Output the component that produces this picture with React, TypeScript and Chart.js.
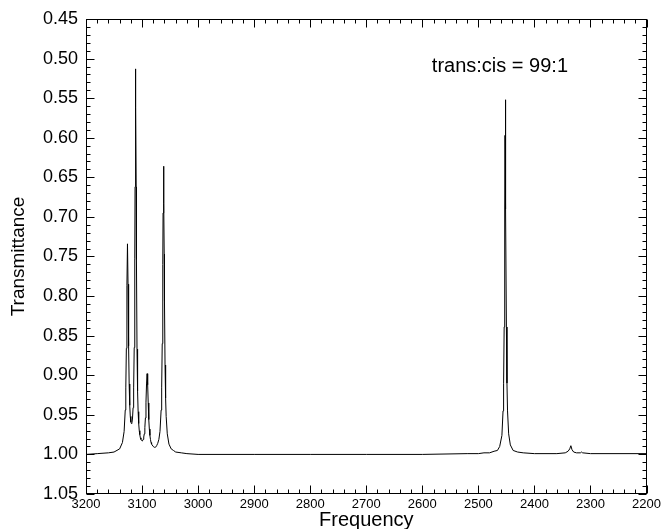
import React, { useEffect, useRef } from "react";
import { Chart, registerables } from "chart.js";

Chart.register(...registerables);

// Frequency (cm^-1), descending
const frequency = [
  3200, 3180, 3160, 3150, 3140, 3135, 3132, 3130, 3129, 3128, 3127, 3126, 3125, 3124, 3123, 3122, 3121, 3120,
  3119, 3118, 3117, 3116, 3115, 3114, 3113, 3112.5, 3112, 3111.5, 3111, 3110.5, 3110, 3109, 3108, 3107, 3106,
  3105, 3104, 3103, 3102, 3101, 3100, 3099, 3098, 3097, 3096, 3095, 3094, 3093, 3092, 3091, 3090, 3089, 3088,
  3087, 3086, 3085, 3084, 3083, 3082, 3080, 3078, 3076, 3074, 3072, 3070, 3068, 3066, 3065, 3064, 3063, 3062.5,
  3061.7, 3061, 3060.5, 3060, 3059, 3058, 3057, 3055, 3052, 3048, 3044, 3040, 3030, 3020, 3000, 2900, 2800,
  2700, 2600, 2520, 2500, 2490, 2480, 2472, 2466, 2462, 2458, 2456, 2455, 2454, 2453, 2452.5, 2452, 2451.5,
  2451, 2450, 2449, 2448, 2446, 2443, 2438, 2430, 2420, 2400, 2360, 2345, 2340, 2337, 2335, 2333, 2330, 2325,
  2318, 2316, 2314, 2300, 2200,
];

// Transmittance at each frequency
const transmittance = [
  1.0, 0.999, 0.998, 0.997, 0.993, 0.985, 0.971, 0.944, 0.916, 0.866, 0.787, 0.734, 0.785, 0.863, 0.911, 0.938, 0.952, 0.959,
  0.961, 0.96, 0.954, 0.941, 0.916, 0.865, 0.753, 0.662, 0.562, 0.513, 0.562, 0.662, 0.754, 0.867, 0.92, 0.946, 0.961,
  0.97, 0.975, 0.979, 0.981, 0.982, 0.983, 0.982, 0.981, 0.978, 0.974, 0.966, 0.954, 0.934, 0.911, 0.898, 0.912, 0.935, 0.956,
  0.968, 0.976, 0.981, 0.985, 0.987, 0.988, 0.99, 0.991, 0.991, 0.989, 0.986, 0.981, 0.971, 0.944, 0.915, 0.86, 0.76, 0.695,
  0.636, 0.683, 0.747, 0.806, 0.887, 0.929, 0.952, 0.974, 0.987, 0.993, 0.995, 0.997, 0.998, 0.999, 1.0, 1.0, 1.0,
  1.0, 1.0, 0.999, 0.999, 0.998, 0.998, 0.996, 0.995, 0.99, 0.976, 0.945, 0.91, 0.839, 0.69, 0.597, 0.552, 0.597,
  0.69, 0.839, 0.91, 0.945, 0.974, 0.988, 0.995, 0.997, 0.998, 0.999, 0.999, 0.998, 0.996, 0.993, 0.989, 0.994, 0.997, 0.998,
  0.998, 0.997, 0.998, 0.999, 0.999,
];

const frequencyTicks = [3200, 3100, 3000, 2900, 2800, 2700, 2600, 2500, 2400, 2300, 2200];
const frequencyMinorTicks = [
  3180, 3160, 3140, 3120, 3080, 3060, 3040, 3020, 2980, 2960, 2940, 2920, 2880, 2860, 2840, 2820,
  2780, 2760, 2740, 2720, 2680, 2660, 2640, 2620, 2580, 2560, 2540, 2520, 2480, 2460, 2440, 2420,
  2380, 2360, 2340, 2320, 2280, 2260, 2240, 2220,
];
const transmittanceTicks = [0.45, 0.5, 0.55, 0.6, 0.65, 0.7, 0.75, 0.8, 0.85, 0.9, 0.95, 1.0, 1.05];
const transmittanceMinorTicks = [
  0.46, 0.47, 0.48, 0.49, 0.51, 0.52, 0.53, 0.54, 0.56, 0.57, 0.58, 0.59, 0.61, 0.62, 0.63, 0.64,
  0.66, 0.67, 0.68, 0.69, 0.71, 0.72, 0.73, 0.74, 0.76, 0.77, 0.78, 0.79, 0.81, 0.82, 0.83, 0.84,
  0.86, 0.87, 0.88, 0.89, 0.91, 0.92, 0.93, 0.94, 0.96, 0.97, 0.98, 0.99, 1.01, 1.02, 1.03, 1.04,
];

const annotationText = "trans:cis = 99:1";
const annotationAt = { x: 2583, y: 0.517 };

const FONT = "'Liberation Sans', Arial, Helvetica, sans-serif";

const framePlugin = {
  id: "frameTicks",
  afterDraw(chart: any) {
    const { ctx, chartArea, scales } = chart;
    const xs = scales.x;
    const ys = scales.y;
    const L = Math.round(chartArea.left) + 0.5;
    const R = Math.round(chartArea.right) - 0.5;
    const T = Math.round(chartArea.top) + 0.5;
    const B = Math.round(chartArea.bottom) - 0.5;
    ctx.save();
    ctx.strokeStyle = "#000";
    ctx.lineWidth = 1;
    ctx.strokeRect(L, T, R - L, B - T);
    ctx.beginPath();
    const xTick = (v: number, len: number) => {
      const px = Math.round(xs.getPixelForValue(v)) + 0.5;
      ctx.moveTo(px, B);
      ctx.lineTo(px, B - len);
      ctx.moveTo(px, T);
      ctx.lineTo(px, T + len);
    };
    const yTick = (v: number, len: number) => {
      const py = Math.round(ys.getPixelForValue(v)) + 0.5;
      ctx.moveTo(L, py);
      ctx.lineTo(L + len, py);
      ctx.moveTo(R, py);
      ctx.lineTo(R - len, py);
    };
    frequencyTicks.forEach((v) => xTick(v, 8));
    frequencyMinorTicks.forEach((v) => xTick(v, 4));
    transmittanceTicks.forEach((v) => yTick(v, 8));
    transmittanceMinorTicks.forEach((v) => yTick(v, 4));
    ctx.stroke();

    ctx.fillStyle = "#000";
    ctx.font = `20px ${FONT}`;
    ctx.textBaseline = "alphabetic";
    ctx.textAlign = "left";
    ctx.fillText(annotationText, xs.getPixelForValue(annotationAt.x), ys.getPixelForValue(annotationAt.y));
    ctx.restore();
  },
};

export default function App() {
  const canvasRef = useRef<HTMLCanvasElement | null>(null);

  useEffect(() => {
    const canvas = canvasRef.current;
    if (!canvas) return;
    Chart.defaults.color = "#000";
    Chart.defaults.font.family = FONT;
    const points = frequency.map((f, i) => ({ x: f, y: transmittance[i] }));
    const chart = new Chart(canvas, {
      type: "line",
      data: {
        datasets: [
          {
            data: points,
            borderColor: "#000",
            borderWidth: 1,
            pointRadius: 0,
            tension: 0,
            fill: false,
          },
        ],
      },
      options: {
        animation: false,
        responsive: false,
        devicePixelRatio: 1,
        layout: { padding: { top: 19, right: 16, left: 0, bottom: 0 } },
        plugins: {
          legend: { display: false },
          tooltip: { enabled: false },
        },
        scales: {
          x: {
            type: "linear",
            reverse: true,
            min: 2200,
            max: 3200,
            grid: { display: false, drawTicks: false },
            border: { display: false },
            afterBuildTicks: (s: any) => {
              s.ticks = frequencyTicks.map((v) => ({ value: v }));
            },
            afterFit: (s: any) => {
              s.height = 35;
            },
            ticks: {
              autoSkip: false,
              maxRotation: 0,
              padding: 3,
              color: "#000",
              font: { size: 13, family: FONT },
              callback: (v: any) => String(v),
            },
            title: {
              display: true,
              text: "Frequency",
              color: "#000",
              font: { size: 20, family: FONT, lineHeight: 0.9 },
              padding: { top: 0, bottom: 0 },
            },
          },
          y: {
            type: "linear",
            reverse: true,
            min: 0.45,
            max: 1.05,
            grid: { display: false, drawTicks: false },
            border: { display: false },
            afterBuildTicks: (s: any) => {
              s.ticks = transmittanceTicks.map((v) => ({ value: v }));
            },
            afterFit: (s: any) => {
              s.width = 86;
            },
            ticks: {
              autoSkip: false,
              padding: 8,
              color: "#000",
              font: { size: 18, family: FONT },
              callback: (v: any) => Number(v).toFixed(2),
            },
            title: {
              display: true,
              text: "Transmittance",
              color: "#000",
              font: { size: 19, family: FONT },
              padding: { top: 7, bottom: 0 },
            },
          },
        },
      },
      plugins: [framePlugin],
    });
    return () => chart.destroy();
  }, []);

  return (
    <div style={{ position: "absolute", left: 0, top: 0, width: 664, height: 529, background: "#fff" }}>
      <canvas ref={canvasRef} width={664} height={529} style={{ display: "block" }} />
    </div>
  );
}
